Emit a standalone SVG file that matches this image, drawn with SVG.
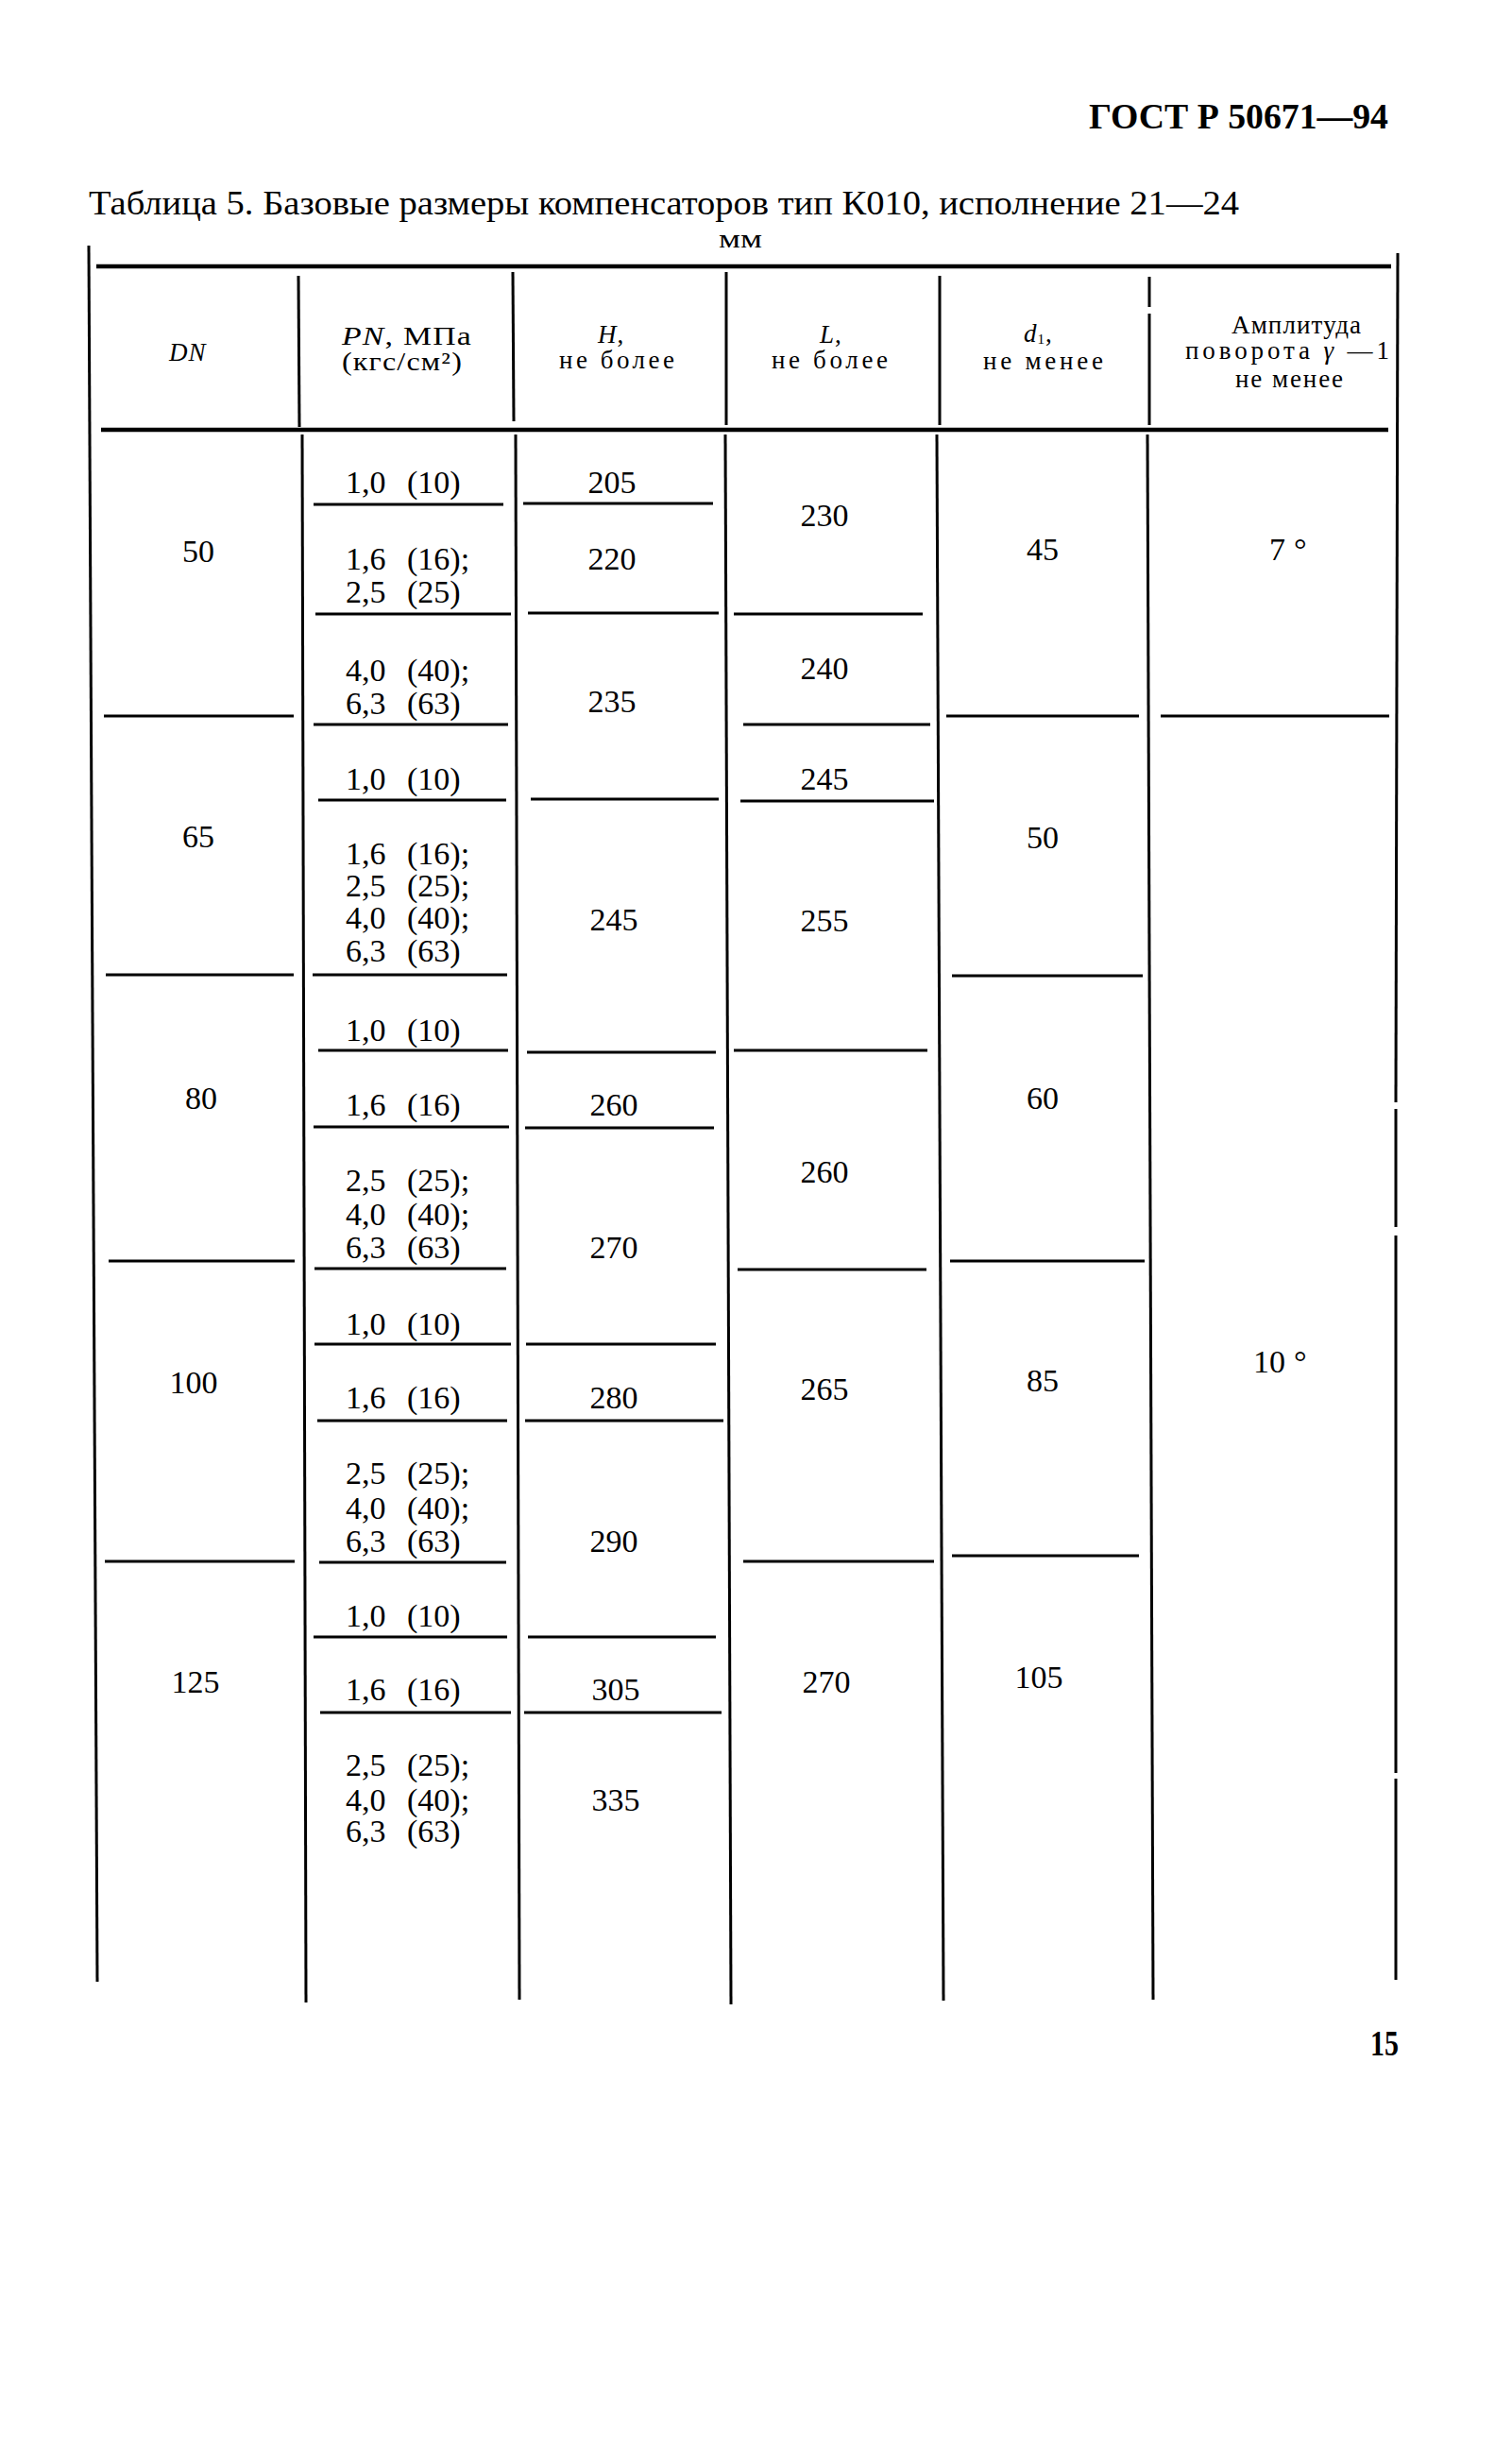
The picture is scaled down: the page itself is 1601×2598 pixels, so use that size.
<svg xmlns="http://www.w3.org/2000/svg" width="1601" height="2598" viewBox="0 0 1601 2598">
<style>
text{font-family:"Liberation Serif","Times New Roman",serif;fill:#000}
.b{font-weight:bold}
.hd{font-size:27px;letter-spacing:1px}
.num{font-size:34px;text-anchor:middle}
.pn{font-size:34px;word-spacing:14px}
.it{font-style:italic}
.ln{stroke:#000;stroke-width:3;fill:none;stroke-linecap:butt}
.tk{stroke:#000;stroke-width:4.5;fill:none}
</style>
<rect width="1601" height="2598" fill="#fff"/>

<g id="page-header">
<text class="b" x="1153" y="136" font-size="38" textLength="317" lengthAdjust="spacingAndGlyphs">ГОСТ Р 50671—94</text>
</g>
<g id="title">
<text x="94" y="227" font-size="36" textLength="1218" lengthAdjust="spacingAndGlyphs">Таблица 5. Базовые размеры компенсаторов тип К010, исполнение 21—24</text>
<text x="761" y="262" font-size="28" textLength="46" lengthAdjust="spacingAndGlyphs">мм</text>
</g>

<g id="grid">
<line class="tk" x1="102" y1="282" x2="1473" y2="282"/>
<line class="tk" x1="107" y1="455" x2="1470" y2="455"/>
<line class="ln" x1="94" y1="260" x2="103" y2="2098"/>
<polyline class="ln" points="1480,268 1478,1167"/>
<polyline class="ln" points="1478,1174 1478,1299"/>
<polyline class="ln" points="1478,1308 1478,1877"/>
<polyline class="ln" points="1478,1883 1478,2096"/>
<line class="ln" x1="316" y1="292" x2="317" y2="452"/>
<line class="ln" x1="543" y1="288" x2="544" y2="446"/>
<line class="ln" x1="769" y1="288" x2="769" y2="450"/>
<line class="ln" x1="995" y1="292" x2="995" y2="450"/>
<line class="ln" x1="1217" y1="293" x2="1217" y2="325"/>
<line class="ln" x1="1217" y1="332" x2="1217" y2="450"/>
<line class="ln" x1="320" y1="460" x2="324" y2="2120"/>
<line class="ln" x1="546" y1="460" x2="550" y2="2117"/>
<line class="ln" x1="768" y1="460" x2="774" y2="2122"/>
<line class="ln" x1="992" y1="460" x2="999" y2="2118"/>
<line class="ln" x1="1215" y1="460" x2="1221" y2="2117"/>
<!-- DN column -->
<line class="ln" x1="110" y1="758" x2="311" y2="758"/>
<line class="ln" x1="112" y1="1032" x2="311" y2="1032"/>
<line class="ln" x1="115" y1="1335" x2="312" y2="1335"/>
<line class="ln" x1="111" y1="1653" x2="312" y2="1653"/>
<!-- PN column -->
<line class="ln" x1="332" y1="534" x2="533" y2="534"/>
<line class="ln" x1="334" y1="650" x2="541" y2="650"/>
<line class="ln" x1="332" y1="767" x2="538" y2="767"/>
<line class="ln" x1="337" y1="847" x2="536" y2="847"/>
<line class="ln" x1="331" y1="1032" x2="537" y2="1032"/>
<line class="ln" x1="337" y1="1112" x2="538" y2="1112"/>
<line class="ln" x1="332" y1="1193" x2="539" y2="1193"/>
<line class="ln" x1="333" y1="1343" x2="536" y2="1343"/>
<line class="ln" x1="333" y1="1423" x2="541" y2="1423"/>
<line class="ln" x1="336" y1="1504" x2="537" y2="1504"/>
<line class="ln" x1="338" y1="1654" x2="536" y2="1654"/>
<line class="ln" x1="332" y1="1733" x2="537" y2="1733"/>
<line class="ln" x1="339" y1="1813" x2="541" y2="1813"/>
<!-- H column -->
<line class="ln" x1="554" y1="533" x2="755" y2="533"/>
<line class="ln" x1="559" y1="649" x2="761" y2="649"/>
<line class="ln" x1="562" y1="846" x2="761" y2="846"/>
<line class="ln" x1="558" y1="1114" x2="758" y2="1114"/>
<line class="ln" x1="556" y1="1194" x2="756" y2="1194"/>
<line class="ln" x1="557" y1="1423" x2="758" y2="1423"/>
<line class="ln" x1="556" y1="1504" x2="766" y2="1504"/>
<line class="ln" x1="559" y1="1733" x2="758" y2="1733"/>
<line class="ln" x1="555" y1="1813" x2="764" y2="1813"/>
<!-- L column -->
<line class="ln" x1="777" y1="650" x2="977" y2="650"/>
<line class="ln" x1="787" y1="767" x2="985" y2="767"/>
<line class="ln" x1="784" y1="848" x2="989" y2="848"/>
<line class="ln" x1="777" y1="1112" x2="982" y2="1112"/>
<line class="ln" x1="781" y1="1344" x2="981" y2="1344"/>
<line class="ln" x1="787" y1="1653" x2="989" y2="1653"/>
<!-- d1 column -->
<line class="ln" x1="1002" y1="758" x2="1206" y2="758"/>
<line class="ln" x1="1008" y1="1033" x2="1210" y2="1033"/>
<line class="ln" x1="1006" y1="1335" x2="1212" y2="1335"/>
<line class="ln" x1="1008" y1="1647" x2="1206" y2="1647"/>
<!-- angle column -->
<line class="ln" x1="1229" y1="758" x2="1471" y2="758"/>
</g>

<g id="header-cells">
<g id="h-dn"><text class="hd it" x="179" y="382">DN</text></g>
<g id="h-pn">
<text class="hd" x="362" y="365" textLength="138" lengthAdjust="spacingAndGlyphs"><tspan class="it">PN</tspan>, МПа</text>
<text class="hd" x="362" y="392" textLength="128" lengthAdjust="spacingAndGlyphs">(кгс/см²)</text>
</g>
<g id="h-h">
<text class="hd" x="633" y="363"><tspan class="it">H</tspan>,</text>
<text class="hd" x="592" y="390" textLength="123">не более</text>
</g>
<g id="h-l">
<text class="hd" x="868" y="363"><tspan class="it">L</tspan>,</text>
<text class="hd" x="817" y="390" textLength="124">не более</text>
</g>
<g id="h-d1">
<text class="hd" x="1084" y="362"><tspan class="it">d</tspan><tspan font-size="15" dy="2">1</tspan><tspan dy="-2">,</tspan></text>
<text class="hd" x="1041" y="391" textLength="128">не менее</text>
</g>
<g id="h-angle">
<text class="hd" x="1304" y="353" textLength="138">Амплитуда</text>
<text class="hd" x="1255" y="380" textLength="217">поворота <tspan class="it">γ</tspan> —1</text>
<text class="hd" x="1308" y="410" textLength="115">не менее</text>
</g>
</g>

<g id="dn-cells">
<g id="dn-50"><text class="num" x="210" y="595">50</text></g>
<g id="dn-65"><text class="num" x="210" y="897">65</text></g>
<g id="dn-80"><text class="num" x="213" y="1174">80</text></g>
<g id="dn-100"><text class="num" x="205" y="1475">100</text></g>
<g id="dn-125"><text class="num" x="207" y="1792">125</text></g>
</g>

<g id="pn-cells">
<text class="pn" x="366" y="522">1,0 (10)</text>
<text class="pn" x="366" y="603">1,6 (16);</text>
<text class="pn" x="366" y="638">2,5 (25)</text>
<text class="pn" x="366" y="721">4,0 (40);</text>
<text class="pn" x="366" y="756">6,3 (63)</text>
<text class="pn" x="366" y="836">1,0 (10)</text>
<text class="pn" x="366" y="915">1,6 (16);</text>
<text class="pn" x="366" y="949">2,5 (25);</text>
<text class="pn" x="366" y="983">4,0 (40);</text>
<text class="pn" x="366" y="1018">6,3 (63)</text>
<text class="pn" x="366" y="1102">1,0 (10)</text>
<text class="pn" x="366" y="1181">1,6 (16)</text>
<text class="pn" x="366" y="1261">2,5 (25);</text>
<text class="pn" x="366" y="1297">4,0 (40);</text>
<text class="pn" x="366" y="1332">6,3 (63)</text>
<text class="pn" x="366" y="1413">1,0 (10)</text>
<text class="pn" x="366" y="1491">1,6 (16)</text>
<text class="pn" x="366" y="1571">2,5 (25);</text>
<text class="pn" x="366" y="1608">4,0 (40);</text>
<text class="pn" x="366" y="1643">6,3 (63)</text>
<text class="pn" x="366" y="1722">1,0 (10)</text>
<text class="pn" x="366" y="1800">1,6 (16)</text>
<text class="pn" x="366" y="1880">2,5 (25);</text>
<text class="pn" x="366" y="1917">4,0 (40);</text>
<text class="pn" x="366" y="1950">6,3 (63)</text>
</g>

<g id="h-cells">
<text class="num" x="648" y="522">205</text>
<text class="num" x="648" y="603">220</text>
<text class="num" x="648" y="754">235</text>
<text class="num" x="650" y="985">245</text>
<text class="num" x="650" y="1181">260</text>
<text class="num" x="650" y="1332">270</text>
<text class="num" x="650" y="1491">280</text>
<text class="num" x="650" y="1643">290</text>
<text class="num" x="652" y="1800">305</text>
<text class="num" x="652" y="1917">335</text>
</g>

<g id="l-cells">
<text class="num" x="873" y="557">230</text>
<text class="num" x="873" y="719">240</text>
<text class="num" x="873" y="836">245</text>
<text class="num" x="873" y="986">255</text>
<text class="num" x="873" y="1252">260</text>
<text class="num" x="873" y="1482">265</text>
<text class="num" x="875" y="1792">270</text>
</g>

<g id="d1-cells">
<text class="num" x="1104" y="593">45</text>
<text class="num" x="1104" y="898">50</text>
<text class="num" x="1104" y="1174">60</text>
<text class="num" x="1104" y="1473">85</text>
<text class="num" x="1100" y="1787">105</text>
</g>

<g id="angle-cells">
<g id="angle-7"><text x="1344" y="593" font-size="34">7<tspan x="1370">°</tspan></text></g>
<g id="angle-10"><text x="1327" y="1453" font-size="34">10<tspan x="1370">°</tspan></text></g>
</g>

<g id="page-number">
<text class="b" x="1451" y="2176" font-size="38" textLength="30" lengthAdjust="spacingAndGlyphs">15</text>
</g>
</svg>
